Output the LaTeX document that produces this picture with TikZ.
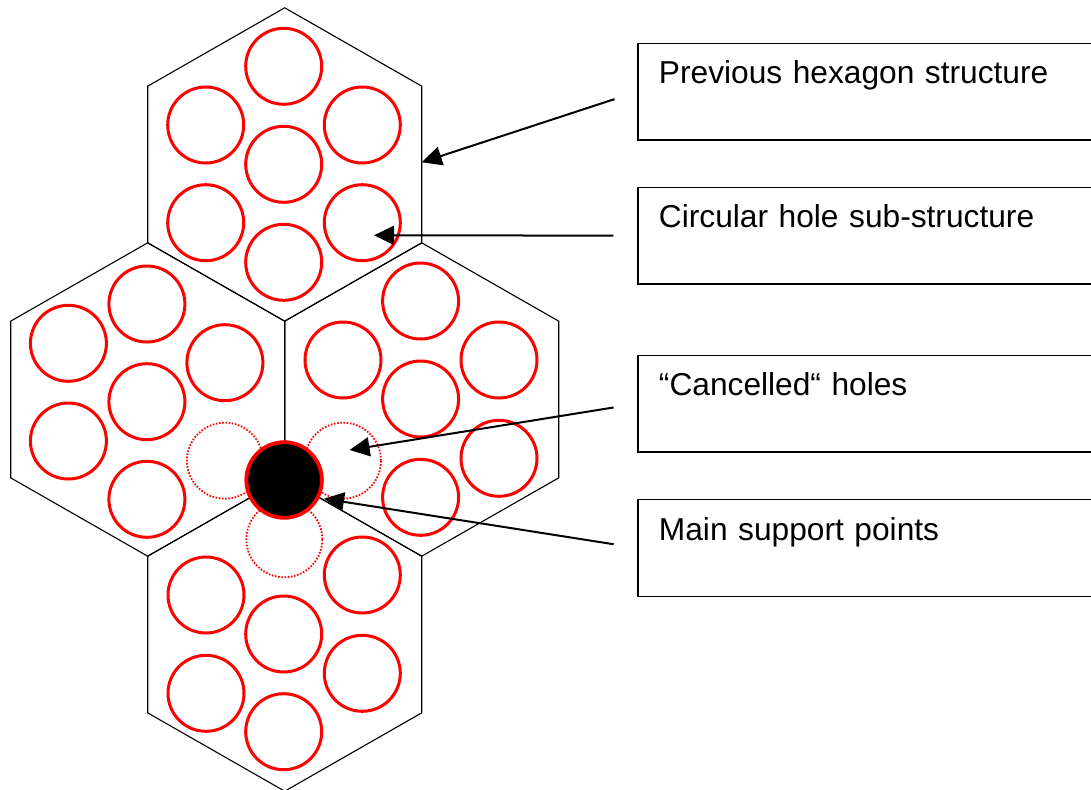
\documentclass[tikz,border=0pt]{standalone}
\usepackage{fontspec}
\setmainfont{Liberation Sans}
\usetikzlibrary{arrows.meta}
\tikzset{
  hexline/.style={draw=black, line width=1.1pt, line join=miter},
  hole/.style={draw=red, line width=3pt},
  cancelled/.style={draw=red, line width=1.8pt, dash pattern=on 1.6pt off 1.6pt},
  support/.style={draw=red, fill=black, line width=3.8pt},
  label box/.style={draw=black, line width=1.3pt, anchor=north west, inner xsep=21pt, inner ysep=0pt,
    text width=440pt, align=left, text height=40.5pt, text depth=56.1pt,
    font=\fontsize{31.7}{38}\selectfont},
  pointer/.style={draw=black, line width=2pt, -{Triangle[length=20pt, width=19pt]}, shorten <=24pt},
}
\newcommand\drawhex[1]{%
  \draw[hexline] (#1) ++(0,-156.7) -- ++(137,78.35) -- ++(0,156.7) -- ++(-137,78.35)
    -- ++(-137,-78.35) -- ++(0,-156.7) -- cycle;}
\begin{document}
\begin{tikzpicture}[x=1pt,y=-1pt]
\useasboundingbox (0,0) rectangle (1091,789);
\clip (0,0) rectangle (1091,789);
% hexagon centres
\coordinate (htop) at (284.7,164.5);
\coordinate (hleft) at (147.7,399.5);
\coordinate (hright) at (421.7,399.5);
\coordinate (hbot) at (284.7,634.5);
\drawhex{htop}
\drawhex{hleft}
\drawhex{hright}
\drawhex{hbot}
% top hexagon holes
\foreach \p in {(283.7,66.3),(205.7,125),(362.3,125),(283.7,164.3),(205.7,222.7),(362.3,222.7),(283.7,262.3)}
  \draw[hole] \p circle[radius=38pt];
% left hexagon holes
\foreach \p in {(68.4,343.3),(146.9,304),(224.9,362.7),(146.9,401.7),(68.4,441),(146.9,499.3)}
  \draw[hole] \p circle[radius=38pt];
% right hexagon holes
\foreach \p in {(343,360),(420.6,301),(499,360),(420.6,399),(499,458.3),(420.6,497.3)}
  \draw[hole] \p circle[radius=38pt];
% bottom hexagon holes
\foreach \p in {(362.3,575),(206,595),(283.7,634),(362.3,673.3),(206,693.3),(283.7,731.7)}
  \draw[hole] \p circle[radius=38pt];
% cancelled holes
\draw[cancelled] (224.9,460.7) circle[radius=38pt];
\draw[cancelled] (343,460.7) circle[radius=38pt];
\draw[cancelled] (284.3,539.3) circle[radius=38pt];
% main support point
\draw[support] (284.1,480) circle[radius=37.8pt];
% label boxes
\node[label box] (b1) at (637.3,42.7) {Previous hexagon structure};
\node[label box] (b2) at (637.3,186.7) {Circular hole sub-structure};
\node[label box] (b3) at (637.3,354.7) {“Cancelled“ holes};
\node[label box] (b4) at (637.3,499) {Main support points};
% arrow targets
\coordinate (t1) at (421.7,162.3);
\coordinate (t2) at (374,235.3);
\coordinate (t3) at (349.6,450);
\coordinate (t4) at (324,498.7);
\draw[pointer] (b1.west) -- (t1);
\draw[pointer] (b2.west) -- (t2);
\draw[pointer] (b3.west) -- (t3);
\draw[pointer] (b4.west) -- (t4);
\end{tikzpicture}
\end{document}
